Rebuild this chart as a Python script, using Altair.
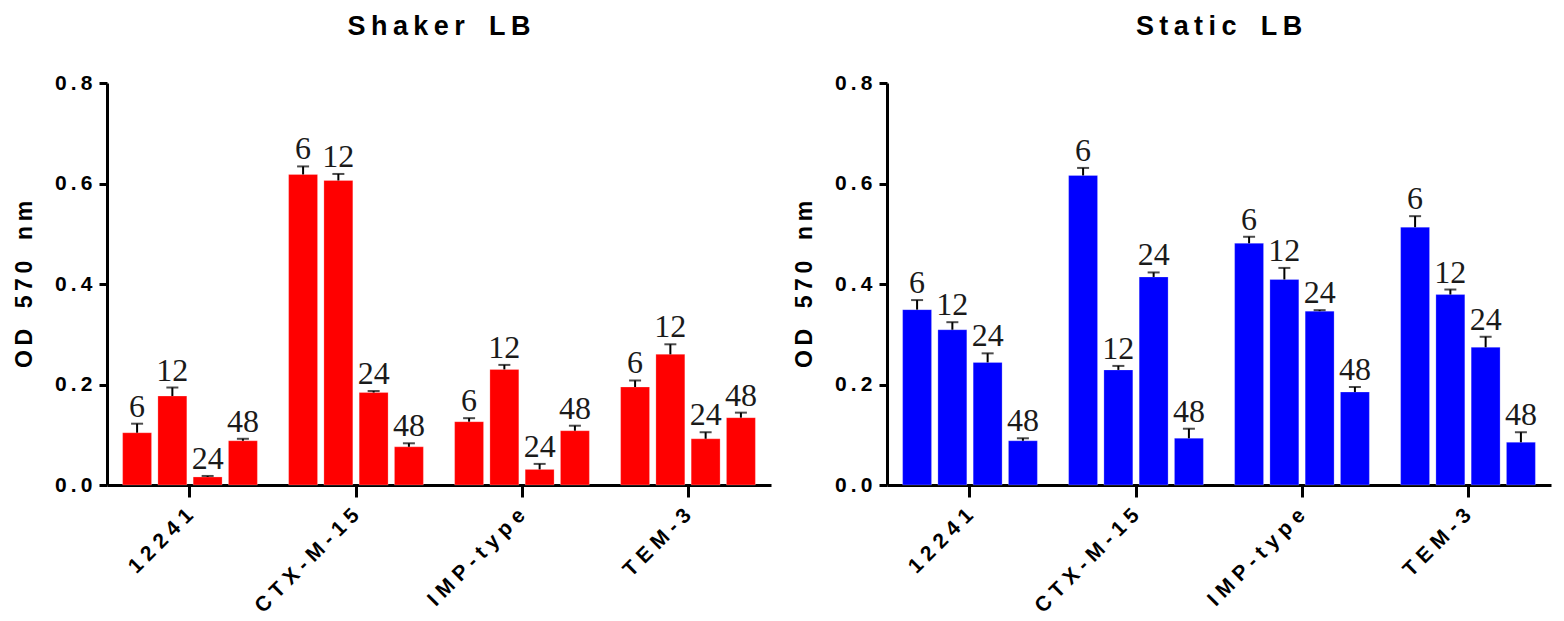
import altair as alt
import pandas as pd

groups = ["12241", "CTX-M-15", "IMP-type", "TEM-3"]
times = ["6", "12", "24", "48"]

shaker_mean = [0.104, 0.177, 0.016, 0.088,
               0.618, 0.606, 0.184, 0.076,
               0.126, 0.230, 0.031, 0.108,
               0.195, 0.260, 0.092, 0.134]
shaker_err = [0.018, 0.017, 0.002, 0.004,
              0.016, 0.013, 0.003, 0.007,
              0.007, 0.009, 0.011, 0.010,
              0.013, 0.020, 0.013, 0.010]

static_mean = [0.349, 0.309, 0.244, 0.088,
               0.616, 0.229, 0.414, 0.093,
               0.481, 0.409, 0.346, 0.185,
               0.513, 0.379, 0.274, 0.085]
static_err = [0.019, 0.015, 0.018, 0.005,
              0.015, 0.008, 0.009, 0.019,
              0.013, 0.023, 0.002, 0.010,
              0.022, 0.010, 0.021, 0.020]

y_ticks = [0.0, 0.2, 0.4, 0.6, 0.8]
y_title = "OD 570 nm"


def make_df(means, errs):
    rows = []
    i = 0
    for g in groups:
        for t in times:
            rows.append({"group": g, "time": t, "mean": means[i],
                         "top": means[i] + errs[i]})
            i += 1
    return pd.DataFrame(rows)


def spaced(s):
    # letter-spaced text; word gaps become en spaces so they survive SVG
    return "\u2009".join("\u2002" if c == " " else c for c in s)


def panel(means, errs, color, title):
    df = make_df(means, errs)
    x = alt.X("group:N", sort=groups,
              scale=alt.Scale(paddingInner=0.15, paddingOuter=0.075),
              axis=alt.Axis(title=None, labelAngle=-45, labelAlign="right",
                            labelBaseline="middle", tickSize=12,
                            labelPadding=15, labelFontSize=21,
                            labelExpr="join(split(datum.value, ''), ' ')"))
    xo = alt.XOffset("time:N", sort=times,
                     scale=alt.Scale(paddingInner=0.18, paddingOuter=0.09))
    y = alt.Y("mean:Q", scale=alt.Scale(domain=[0, 0.8], nice=False),
              axis=alt.Axis(title=spaced(y_title), values=y_ticks,
                            tickSize=8, labelPadding=7, titlePadding=18,
                            labelFontSize=21, titleFontSize=23,
                            labelExpr="join(split(format(datum.value, '.1f'), ''), '\u2009')"))
    bars = alt.Chart(df).mark_bar(color=color, stroke="#ffffff", strokeWidth=0.6,
                                  strokeOpacity=0.4).encode(x=x, xOffset=xo, y=y)
    err = alt.Chart(df).mark_rule(color="black", strokeWidth=2).encode(
        x=x, xOffset=xo, y="mean:Q", y2="top:Q")
    cap = alt.Chart(df).mark_tick(color="black", thickness=2, size=12).encode(
        x=x, xOffset=xo, y="top:Q")
    txt = alt.Chart(df).mark_text(font="Liberation Serif", fontSize=32,
                                  baseline="bottom", dy=0, color="#1a1a1a").encode(
        x=x, xOffset=xo, y="top:Q", text="time:N")
    return alt.layer(bars, err, cap, txt).properties(
        width=664, height=402,
        title=alt.TitleParams(spaced(title), fontSize=27, font="Liberation Sans",
                              fontWeight="bold", anchor="middle", offset=31,
                              color="black"))


left = panel(shaker_mean, shaker_err, "#ff0000", "Shaker LB")
right = panel(static_mean, static_err, "#0000ff", "Static LB")

chart = alt.hconcat(left, right, spacing=22).configure_view(stroke=None).configure_axis(
    grid=False, domainColor="black", domainWidth=3, tickColor="black", tickWidth=3,
    labelFont="Liberation Sans", labelFontWeight="bold",
    labelColor="black", titleFont="Liberation Sans", titleFontWeight="bold",
    titleColor="black")

chart.save("out.html", embed_options={"renderer": "svg", "actions": False})
